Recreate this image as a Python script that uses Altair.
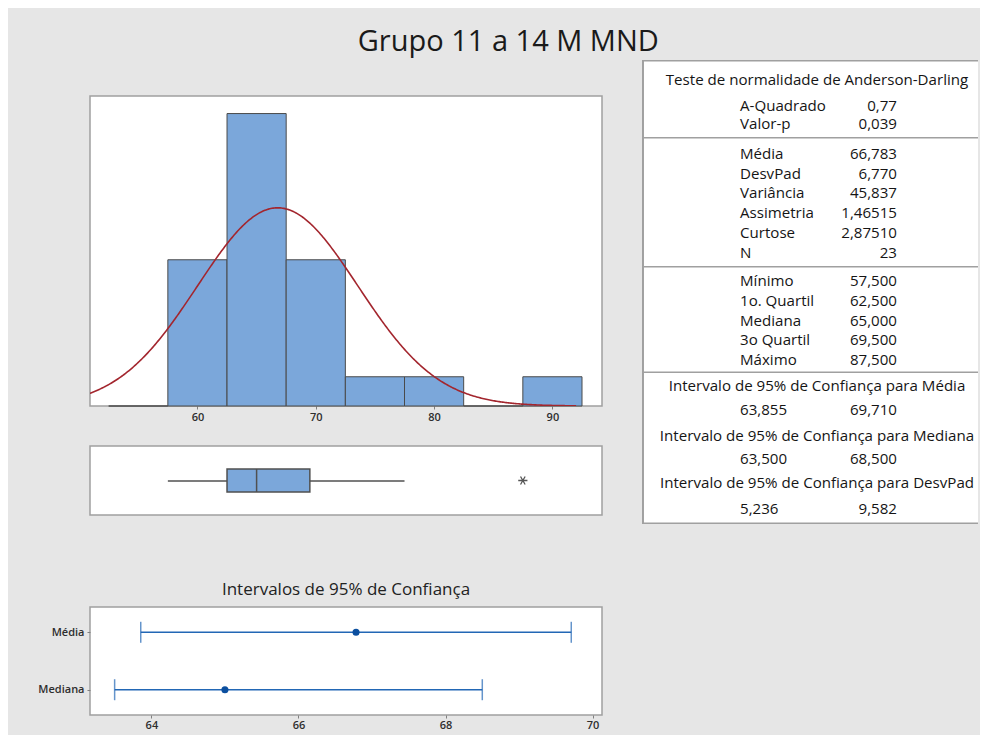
import altair as alt
import pandas as pd

# ---------------- data ----------------
bin_start = [52.5, 57.5, 62.5, 67.5, 72.5, 77.5, 82.5, 87.5]
bin_end = [57.5, 62.5, 67.5, 72.5, 77.5, 82.5, 87.5, 92.5]
counts = [0, 5, 10, 5, 1, 1, 0, 1]

mean_val = 66.783
sd_val = 6.770
n_obs = 23
bin_width = 5.0

box_min = [57.5]
box_q1 = [62.5]
box_med = [65.0]
box_q3 = [69.5]
box_whisk_hi = [77.5]
outliers = [87.5]

ci_labels = ["Média", "Mediana"]
ci_est = [66.783, 65.0]
ci_lo = [63.855, 63.5]
ci_hi = [69.710, 68.5]

hist_ticks = [60, 70, 80, 90]
ci_ticks = [64, 66, 68, 70]

ad_header = "Teste de normalidade de Anderson-Darling"
ad_labels = ["A-Quadrado", "Valor-p"]
ad_values = ["0,77", "0,039"]
desc_labels = ["Média", "DesvPad", "Variância", "Assimetria", "Curtose", "N"]
desc_values = ["66,783", "6,770", "45,837", "1,46515", "2,87510", "23"]
quart_labels = ["Mínimo", "1o. Quartil", "Mediana", "3o Quartil", "Máximo"]
quart_values = ["57,500", "62,500", "65,000", "69,500", "87,500"]
ci_headers = ["Intervalo de 95% de Confiança para Média",
              "Intervalo de 95% de Confiança  para Mediana",
              "Intervalo de 95% de Confiança  para DesvPad"]
ci_low_txt = ["63,855", "63,500", "5,236"]
ci_high_txt = ["69,710", "68,500", "9,582"]

# ---------------- style ----------------
FONT = "Open Sans"
BAR_FILL = "#7BA7DA"
BAR_STROKE = "#4A4A4A"
CURVE = "#A3262E"
CI_BLUE = "#2267B5"
CI_DOT = "#0B4F9F"
BORDER = "#A0A0A0"
TXT = "#151515"
AX_TXT = "#2E2E2E"

PW = 512
X_DOM = [50.92, 94.19]
xs = alt.Scale(domain=X_DOM, nice=False, zero=False)

# ---------------- histogram ----------------
hist_df = pd.DataFrame({"start": bin_start, "end": bin_end, "count": counts})
bars = alt.Chart(hist_df).mark_rect(fill=BAR_FILL, stroke=BAR_STROKE, strokeWidth=1).encode(
    x=alt.X("start:Q", scale=xs,
            axis=alt.Axis(values=hist_ticks, format="d", title=None, grid=False, domain=False,
                          tickSize=3, tickColor="#808080", labelFontSize=11, labelFontWeight=600,
                          labelColor=AX_TXT, labelFont=FONT, labelPadding=2)),
    x2="end:Q",
    y=alt.Y("count:Q", scale=alt.Scale(domain=[0, 10.6], nice=False), axis=None),
    y2=alt.datum(0),
)
curve = alt.Chart(alt.sequence(50.5, 92.05, 0.1, as_="v")).transform_calculate(
    dens=f"{n_obs * bin_width}*exp(-0.5*pow((datum.v-{mean_val})/{sd_val},2))/({sd_val}*sqrt(2*PI))"
).mark_line(color=CURVE, strokeWidth=1.6, clip=True).encode(
    x=alt.X("v:Q", scale=xs),
    y=alt.Y("dens:Q"),
)
hist = alt.layer(bars, curve).properties(width=PW, height=310)

# ---------------- boxplot ----------------
box_df = pd.DataFrame({"lo": box_min, "q1": box_q1, "med": box_med, "q3": box_q3, "hi": box_whisk_hi})
out_df = pd.DataFrame({"v": outliers})
whisk = alt.Chart(box_df).mark_rule(color="#505050", strokeWidth=1.3).encode(
    x=alt.X("lo:Q", scale=xs, axis=None), x2="hi:Q", y=alt.value(35))
boxr = alt.Chart(box_df).mark_rect(fill=BAR_FILL, stroke="#505050", strokeWidth=1.5).encode(
    x=alt.X("q1:Q", scale=xs, axis=None), x2="q3:Q", y=alt.value(23), y2=alt.value(46))
medr = alt.Chart(box_df).mark_rule(color="#505050", strokeWidth=1.5).encode(
    x=alt.X("med:Q", scale=xs, axis=None), y=alt.value(23), y2=alt.value(46))
ast = alt.Chart(out_df).mark_point(
    shape="M -1 0 L 1 0 M -0.5 -0.866 L 0.5 0.866 M -0.5 0.866 L 0.5 -0.866",
    filled=False, stroke="#555555", strokeWidth=1.3, size=85, opacity=1).encode(
    x=alt.X("v:Q", scale=xs, axis=None), y=alt.value(34.5))
boxp = alt.layer(whisk, boxr, medr, ast).properties(width=PW, height=69)

# ---------------- CI plot ----------------
ci_df = pd.DataFrame({"lab": ci_labels, "est": ci_est, "lo": ci_lo, "hi": ci_hi})
cx = alt.Scale(domain=[63.165, 70.128], nice=False, zero=False)
cy = alt.Scale(type="point", domain=ci_labels, padding=0.44)
xax = alt.Axis(values=ci_ticks, format="d", title=None, grid=False, domain=False, tickSize=3,
               tickColor="#808080", labelFontSize=11, labelFontWeight=600, labelColor=AX_TXT,
               labelFont=FONT, labelPadding=1)
yax = alt.Axis(title=None, grid=False, domain=False, tickSize=3, tickColor="#808080",
               labelFontSize=11, labelFontWeight=600, labelColor=AX_TXT, labelFont=FONT,
               labelPadding=3)
ci_rule = alt.Chart(ci_df).mark_rule(color=CI_BLUE, strokeWidth=1.5).encode(
    x=alt.X("lo:Q", scale=cx, axis=xax), x2="hi:Q",
    y=alt.Y("lab:N", scale=cy, axis=yax))
cap_lo = alt.Chart(ci_df).mark_tick(color=CI_BLUE, size=21, thickness=1.5).encode(
    x=alt.X("lo:Q", scale=cx), y=alt.Y("lab:N", scale=cy))
cap_hi = alt.Chart(ci_df).mark_tick(color=CI_BLUE, size=21, thickness=1.5).encode(
    x=alt.X("hi:Q", scale=cx), y=alt.Y("lab:N", scale=cy))
dots = alt.Chart(ci_df).mark_circle(color=CI_DOT, size=50, opacity=1).encode(
    x=alt.X("est:Q", scale=cx), y=alt.Y("lab:N", scale=cy))
ci = alt.layer(ci_rule, cap_lo, cap_hi, dots).properties(
    width=PW, height=108,
    title=alt.TitleParams("Intervalos de 95% de Confiança", fontSize=17, font=FONT,
                          fontWeight="normal", color="#222222", offset=8, anchor="middle"))


def spacer(h):
    return alt.Chart(pd.DataFrame({"a": [0]})).mark_point(opacity=0).encode(
        x=alt.value(0), y=alt.value(0)).properties(
        width=PW, height=h, view=alt.ViewBackground(stroke="transparent", fill="transparent"))


left = alt.vconcat(spacer(36), hist, spacer(40), boxp, spacer(92), ci, spacing=0, bounds="flush")

# ---------------- table ----------------
TW, TH = 336, 464
LX, VX, CX = 98, 255, 175
tx = alt.Scale(domain=[0, TW], range=[0, TW])
ty = alt.Scale(domain=[0, TH], range=[0, TH])

rows = []
rows.append({"t": ad_header, "y": 20, "k": "c"})
for i, (l, v) in enumerate(zip(ad_labels, ad_values)):
    y = 45.7 + 18.6 * i
    rows += [{"t": l, "y": y, "k": "l"}, {"t": v, "y": y, "k": "r"}]
for i, (l, v) in enumerate(zip(desc_labels, desc_values)):
    y = 94 + 19.74 * i
    rows += [{"t": l, "y": y, "k": "l"}, {"t": v, "y": y, "k": "r"}]
for i, (l, v) in enumerate(zip(quart_labels, quart_values)):
    y = 221.3 + 19.7 * i
    rows += [{"t": l, "y": y, "k": "l"}, {"t": v, "y": y, "k": "r"}]
hy = [325.7, 375.7, 423.3]
vy = [350, 399.3, 449]
for h, a, b, y1, y2 in zip(ci_headers, ci_low_txt, ci_high_txt, hy, vy):
    rows += [{"t": h, "y": y1, "k": "c"}, {"t": a, "y": y2, "k": "l"}, {"t": b, "y": y2, "k": "r"}]
tdf = pd.DataFrame(rows)
tdf["x"] = tdf["k"].map({"c": CX, "l": LX, "r": VX})

base_t = alt.Chart(tdf)


def txt_layer(kind, align):
    return base_t.transform_filter(alt.datum.k == kind).mark_text(
        align=align, baseline="middle", font=FONT, fontSize=15.1, color=TXT).encode(
        x=alt.X("x:Q", scale=tx, axis=None), y=alt.Y("y:Q", scale=ty, axis=None), text="t:N")


lines_df = pd.DataFrame({
    "x1": [0, 0, 0, 0, 0],
    "x2": [TW, TW, TW, TW, TW],
    "y1": [0.75, 77.7, 206.7, 312.3, TH - 0.75],
})
lines = alt.Chart(lines_df).mark_rule(color=BORDER, strokeWidth=1.5).encode(
    x=alt.X("x1:Q", scale=tx, axis=None), x2="x2:Q",
    y=alt.Y("y1:Q", scale=ty, axis=None))
lines_l = alt.Chart(lines_df).mark_rule(color=BORDER, strokeWidth=1.5).encode(
    x=alt.value(0.75), y=alt.value(0), y2=alt.value(TH))
table = alt.layer(lines, lines_l, txt_layer("c", "center"), txt_layer("l", "left"),
                  txt_layer("r", "right")).properties(
    width=TW, height=TH, view=alt.ViewBackground(stroke="transparent", fill="white"))

chart = alt.hconcat(left, table, spacing=552, bounds="flush").properties(
    title=alt.TitleParams("Grupo 11 a 14 M MND", fontSize=29, font=FONT, fontWeight="normal",
                          color="#1A1A1A", anchor="middle", offset=0, dx=0),
    padding={"left": 29, "top": 19, "right": 0, "bottom": 4},
    background="#E6E6E6",
).configure_view(stroke=BORDER, strokeWidth=1.5, fill="white")

chart.save("out.html", embed_options={"renderer": "svg", "actions": False})
